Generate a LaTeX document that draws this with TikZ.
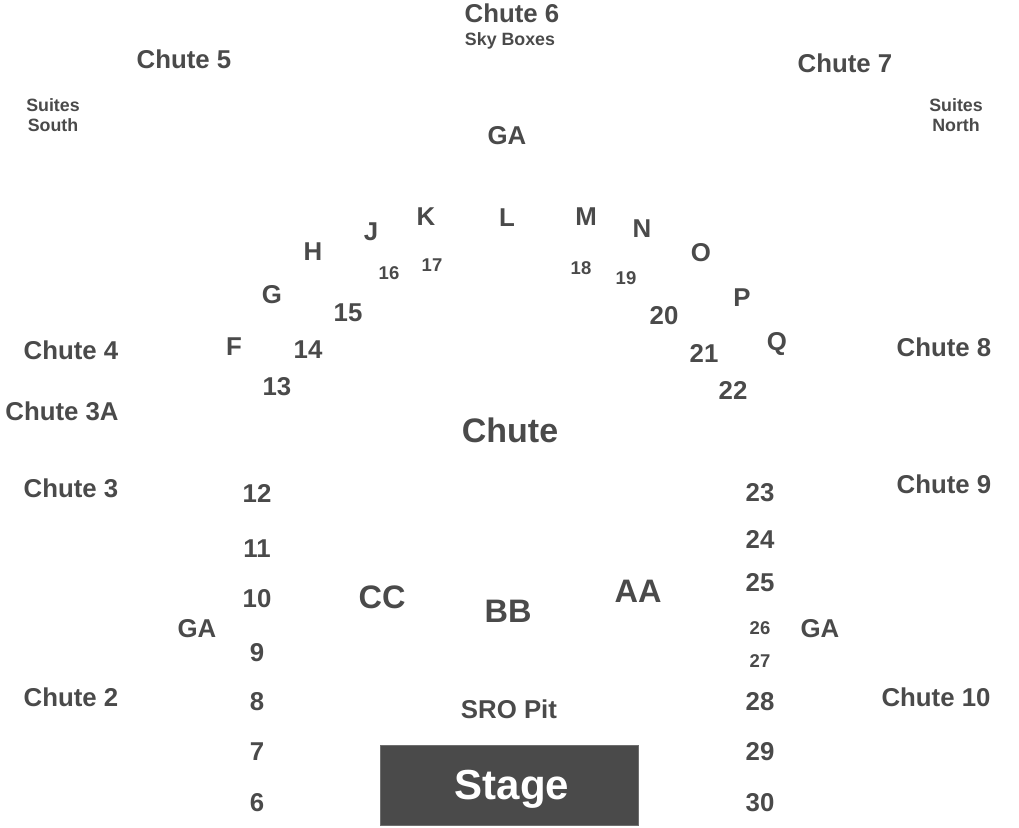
\documentclass[tikz,border=0pt]{standalone}
\usepackage{fontspec}
\setmainfont{Liberation Sans}
\usetikzlibrary{calc}
\definecolor{ink}{HTML}{4A4A4A}

\begin{document}
\begin{tikzpicture}[x=1pt,y=-1pt,
	every node/.style={text=ink,font=\bfseries,inner sep=0pt},
	lbl/.style={font=\fontsize{25.8}{30}\selectfont\bfseries},
	sml/.style={font=\fontsize{18.5}{22}\selectfont\bfseries},
	tny/.style={font=\fontsize{17.8}{21}\selectfont\bfseries,align=center},
	big/.style={font=\fontsize{32.5}{38}\selectfont\bfseries},
	stagebox/.style={fill=ink,draw=ink!80,minimum width=258,minimum height=80}]
				\useasboundingbox (0,0) rectangle (1019,827);
				% chutes round the house
				\node[lbl] (c6) at (512,13) {Chute 6};
				\node[tny] (sky) at (510,41) {Sky Boxes};
				\node[lbl] (c5) at (184,59) {Chute 5};
				\node[lbl] (c7) at (845,63) {Chute 7};
				\node[tny] (suiS) at (53,115) {Suites\\[-0.5pt]South};
				\node[tny] (suiN) at (956,115) {Suites\\[-0.5pt]North};
				\node[lbl] (c4) at (71,350) {Chute 4};
				\node[lbl] (c3a) at (62,411) {Chute 3A};
				\node[lbl] (c3) at (71,488) {Chute 3};
				\node[lbl] (c2) at (71,697) {Chute 2};
				\node[lbl] (c8) at (944,347) {Chute 8};
				\node[lbl] (c9) at (944,484) {Chute 9};
				\node[lbl] (c10) at (936,697) {Chute 10};
				\node[font=\fontsize{34}{40}\selectfont\bfseries] (chute) at (510,430) {Chute};
				% upper sections
				\node[lbl] (gaT) at (507,136) {GA};
				\foreach \s/\x/\y in {F/234/347,G/272/295,H/313/252,J/371/232,K/426/217,L/507/218,
					M/586/217,N/642/229,O/701/253,P/742/298,Q/777/344}
					\node[lbl] (sec\s) at (\x,\y) {\s};
				\foreach \s/\x/\y in {16/389/273,17/432/265,18/581/268,19/626/278}
					\node[sml] (sec\s) at (\x,\y) {\s};
				\foreach \s/\x/\y in {13/277/387,14/308/350,15/348/313,20/664/316,21/704/353,22/733/390}
					\node[lbl] (sec\s) at (\x,\y) {\s};
				% side sections
				\foreach \s/\y in {12/493,11/549,10/599,9/653,8/702,7/752,6/803}
					\node[lbl] (sec\s) at (257,\y) {\s};
				\foreach \s/\y in {23/493,24/539,25/583,28/702,29/752,30/803}
					\node[lbl] (sec\s) at (760,\y) {\s};
				\node[sml] (sec26) at (760,628) {26};
				\node[sml] (sec27) at (760,661) {27};
				\node[lbl] (gaL) at (197,629) {GA};
				\node[lbl] (gaR) at (820,629) {GA};
				% floor
				\node[big] (secCC) at (382,597) {CC};
				\node[big] (secBB) at (508,611) {BB};
				\node[big] (secAA) at (638,591) {AA};
				\node[lbl] (pit) at (509,709) {SRO Pit};
				\node[stagebox] (stage) at (509,785) {};
				\node[text=white,font=\fontsize{42}{48}\selectfont\bfseries] (stagetxt) at (512,789) {Stage};
				\end{tikzpicture}
\end{document}
